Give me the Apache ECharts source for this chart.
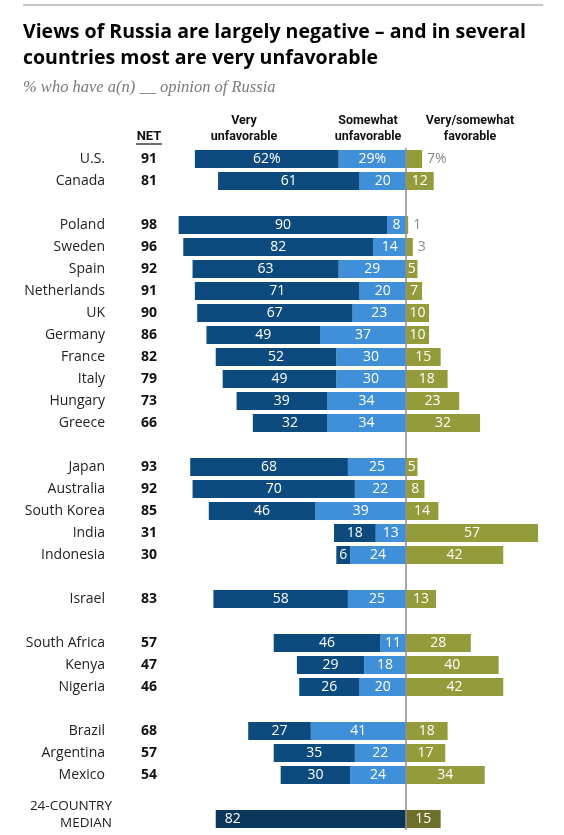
<!DOCTYPE html>
<html>
<head>
<meta charset="utf-8">
<script src="https://cdn.jsdelivr.net/npm/echarts@6/dist/echarts.min.js"></script>
<style>
  html, body { margin: 0; padding: 0; background: #fff; }
  #chart { width: 564px; height: 835px; }
</style>
</head>
<body>
<div id="chart"></div>
<script>
// rows top to bottom, null = blank spacer row between groups
const countries = ["U.S.", "Canada", null, "Poland", "Sweden", "Spain", "Netherlands", "UK", "Germany", "France", "Italy", "Hungary", "Greece", null, "Japan", "Australia", "South Korea", "India", "Indonesia", null, "Israel", null, "South Africa", "Kenya", "Nigeria", null, "Brazil", "Argentina", "Mexico", null, "24-COUNTRY MEDIAN"];
const net = [91, 81, null, 98, 96, 92, 91, 90, 86, 82, 79, 73, 66, null, 93, 92, 85, 31, 30, null, 83, null, 57, 47, 46, null, 68, 57, 54, null, null];
const veryUnfav = [62, 61, null, 90, 82, 63, 71, 67, 49, 52, 49, 39, 32, null, 68, 70, 46, 18, 6, null, 58, null, 46, 29, 26, null, 27, 35, 30, null, 82];
const somewhatUnfav = [29, 20, null, 8, 14, 29, 20, 23, 37, 30, 30, 34, 34, null, 25, 22, 39, 13, 24, null, 25, null, 11, 18, 20, null, 41, 22, 24, null, null];
const favorable = [7, 12, null, 1, 3, 5, 7, 10, 10, 15, 18, 23, 32, null, 5, 8, 14, 57, 42, null, 13, null, 28, 40, 42, null, 18, 17, 34, null, 15];

const C_VERY = "#0d4a7e";
const C_SOME = "#3f8fd9";
const C_FAV = "#949b3a";
const C_MED_VERY = "#0b365c";
const C_MED_FAV = "#6d6f2b";
const FONT = "'Open Sans', 'Liberation Sans', sans-serif";
const HFONT = "Roboto, 'Liberation Sans', sans-serif";

const medianIdx = countries.length - 1;
const rowKeys = countries.map((c, i) => "r" + i);

function fmt(p) {
  if (p.value == null) return "";
  const v = Math.abs(p.value);
  return p.dataIndex === 0 ? v + "%" : String(v);
}

const someData = somewhatUnfav.map(v => (v == null ? "-" : -v));
const veryData = veryUnfav.map((v, i) => {
  if (v == null) return "-";
  if (i === medianIdx) {
    return {
      value: -v,
      itemStyle: { color: C_MED_VERY },
      label: { position: "insideLeft", distance: 9 }
    };
  }
  return -v;
});
const favData = favorable.map((v, i) => {
  if (v == null) return "-";
  const item = { value: v };
  if (i === medianIdx) item.itemStyle = { color: C_MED_FAV };
  // too narrow for a label inside: put it outside in gray
  if (v < 5 || i === 0) item.label = { position: "right", color: "#8a8a8a", distance: 5 };
  return item;
});

const chart = echarts.init(document.getElementById("chart"));

const labelStyle = {
  show: true,
  position: "inside",
  color: "#fff",
  fontSize: 14,
  fontFamily: FONT,
  formatter: fmt
};

const option = {
  animation: false,
  grid: { left: 174, right: 19, top: 148, bottom: 5, containLabel: false },
  xAxis: {
    type: "value",
    min: -100,
    max: 60,
    show: false
  },
  yAxis: [
    {
      type: "category",
      inverse: true,
      data: rowKeys,
      axisLine: { show: false },
      axisTick: { show: false },
      axisLabel: {
        margin: 69,
        fontSize: 14,
        color: "#222",
        fontFamily: FONT,
        formatter: (val, i) => (countries[i] && i !== medianIdx ? countries[i] : "")
      }
    },
    {
      type: "category",
      inverse: true,
      position: "left",
      data: rowKeys,
      axisLine: { show: false },
      axisTick: { show: false },
      axisLabel: {
        margin: 17,
        fontSize: 14,
        fontWeight: "bold",
        color: "#111",
        fontFamily: FONT,
        formatter: (val, i) => (net[i] == null ? "" : String(net[i]))
      }
    }
  ],
  series: [
    {
      name: "Somewhat unfavorable",
      type: "bar",
      stack: "all",
      barWidth: 18,
      itemStyle: { color: C_SOME },
      label: labelStyle,
      data: someData
    },
    {
      name: "Very unfavorable",
      type: "bar",
      stack: "all",
      barWidth: 18,
      itemStyle: { color: C_VERY },
      label: labelStyle,
      data: veryData
    },
    {
      name: "Very/somewhat favorable",
      type: "bar",
      stack: "all",
      barWidth: 18,
      itemStyle: { color: C_FAV },
      label: labelStyle,
      data: favData,
      markLine: {
        silent: true,
        symbol: "none",
        z: 10,
        label: { show: false },
        lineStyle: { color: "#8c8c8c", width: 1.5, type: "solid" },
        data: [{ xAxis: 0 }]
      }
    }
  ],
  graphic: [
    { type: "line", shape: { x1: 23, y1: 5, x2: 543, y2: 5 }, style: { stroke: "#8c8c8c", lineWidth: 1 } },
    {
      type: "text", left: 23, top: 19,
      style: {
        text: "Views of Russia are largely negative \u2013 and in several\ncountries most are very unfavorable",
        font: "bold 19.5px " + FONT, fill: "#000", lineHeight: 26
      }
    },
    {
      type: "text", left: 23, top: 79,
      style: {
        text: "% who have a(n) __ opinion of Russia",
        font: "italic 16.5px 'Liberation Serif', 'DejaVu Serif', serif", fill: "#7a7a7a"
      }
    },
    {
      type: "text", x: 244, y: 129,
      style: { text: "Very\nunfavorable", font: "bold 12.5px " + HFONT, fill: "#111", align: "center", verticalAlign: "middle", lineHeight: 16 }
    },
    {
      type: "text", x: 368, y: 129,
      style: { text: "Somewhat\nunfavorable", font: "bold 12.5px " + HFONT, fill: "#111", align: "center", verticalAlign: "middle", lineHeight: 16 }
    },
    {
      type: "text", x: 470, y: 129,
      style: { text: "Very/somewhat\nfavorable", font: "bold 12.5px " + HFONT, fill: "#111", align: "center", verticalAlign: "middle", lineHeight: 16 }
    },
    {
      type: "text", x: 149, y: 137,
      style: { text: "NET", font: "bold 13px " + HFONT, fill: "#111", align: "center", verticalAlign: "middle" }
    },
    { type: "line", shape: { x1: 136, y1: 144, x2: 162, y2: 144 }, style: { stroke: "#111", lineWidth: 1.2 } },
    {
      type: "text", x: 112, y: 815,
      style: { text: "24-COUNTRY\nMEDIAN", font: "13.5px " + FONT, fill: "#222", align: "right", verticalAlign: "middle", lineHeight: 17 }
    }
  ]
};

chart.setOption(option);
</script>
</body>
</html>
